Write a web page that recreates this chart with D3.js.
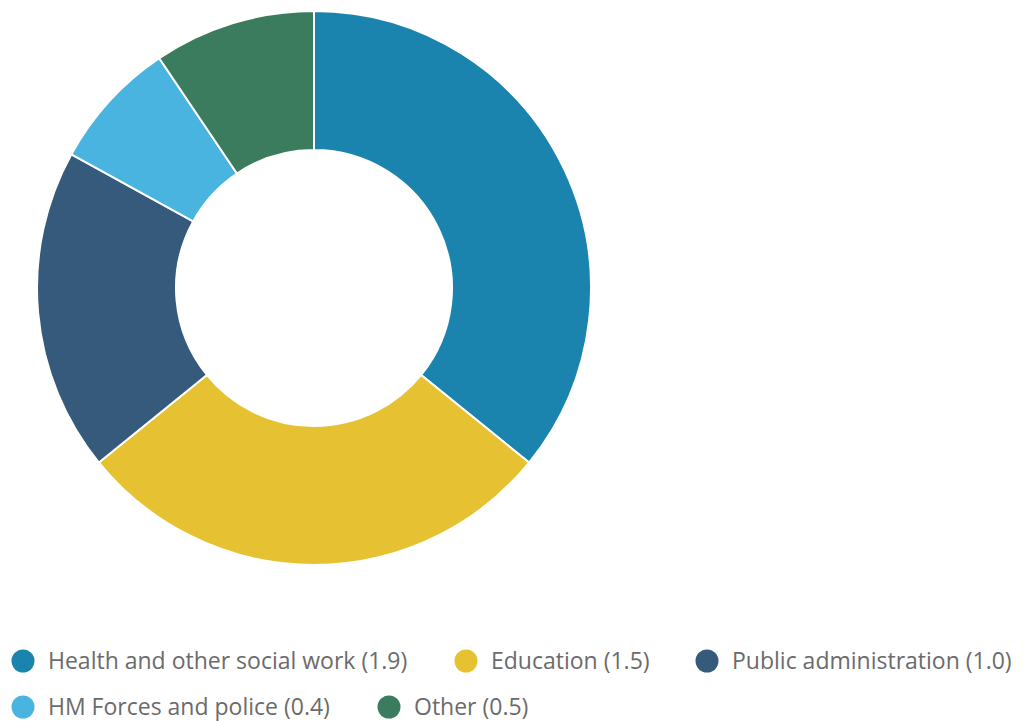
<!DOCTYPE html>
<html>
<head>
<meta charset="utf-8">
<script src="https://cdn.jsdelivr.net/npm/d3@7"></script>
<style>
  html, body { margin: 0; padding: 0; background: #fff; }
  svg { display: block; }
</style>
</head>
<body>
<svg id="chart" width="1025" height="721"></svg>
<script>
// Public sector employment by industry (millions)
const categories = ["Health and other social work", "Education", "Public administration", "HM Forces and police", "Other"];
const values = [1.9, 1.5, 1.0, 0.4, 0.5];
const colors = ["#1b84ae", "#e6c232", "#365a7b", "#48b4df", "#3b7c5e"];

const svg = d3.select("#chart");
const cx = 314, cy = 288, outerR = 277, innerR = 138;

const data = categories.map((c, i) => ({ name: c, value: values[i], color: colors[i] }));

const pie = d3.pie().value(d => d.value).sort(null);
const arc = d3.arc().innerRadius(innerR).outerRadius(outerR);

svg.append("g")
  .attr("transform", `translate(${cx},${cy})`)
  .selectAll("path")
  .data(pie(data))
  .join("path")
  .attr("d", arc)
  .attr("fill", d => d.data.color)
  .attr("stroke", "#ffffff")
  .attr("stroke-width", 2)
  .attr("stroke-linejoin", "round");

// Legend, two rows
const legendPos = [
  { x: 23, y: 661 }, { x: 466, y: 661 }, { x: 707, y: 661 },
  { x: 23, y: 707 }, { x: 389, y: 707 }
];

const legend = svg.append("g").selectAll("g")
  .data(data)
  .join("g")
  .attr("transform", (d, i) => `translate(${legendPos[i].x},${legendPos[i].y})`);

legend.append("circle")
  .attr("r", 11.5)
  .attr("fill", d => d.color);

legend.append("text")
  .attr("x", 25)
  .attr("dy", "0.35em")
  .attr("font-family", "'Open Sans', sans-serif")
  .attr("font-size", 23)
  .attr("fill", "#6b6b6b")
  .text(d => `${d.name} (${d3.format(".1f")(d.value)})`);
</script>
</body>
</html>
